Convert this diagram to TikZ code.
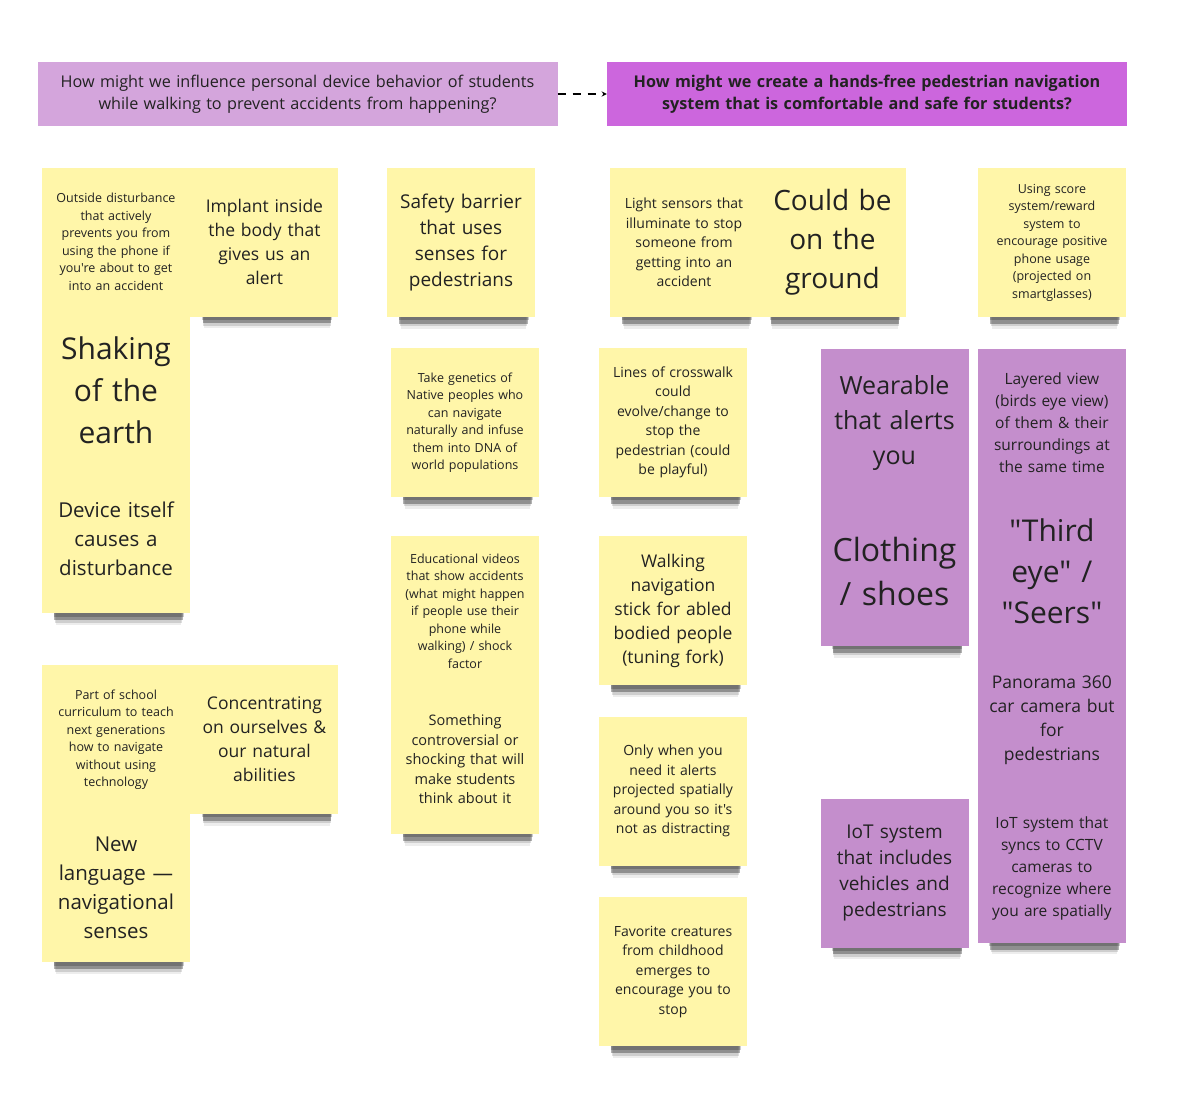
\documentclass[tikz,border=0pt]{standalone}
\usepackage{fontspec}
\setmainfont{Open Sans}[Ligatures=TeXOff]
\usepackage{xcolor}
\usepackage{tikz}
\usetikzlibrary{shapes,arrows,positioning,shadows}
\definecolor{noteyellow}{HTML}{FFF6A9}
\definecolor{notepurple}{HTML}{C48ECC}
\definecolor{hmwlight}{HTML}{D4A5DC}
\definecolor{hmwbright}{HTML}{CC66DD}
\definecolor{inkgray}{HTML}{222222}
\tikzstyle{hmw} = [rectangle, minimum width=520pt, minimum height=64pt, text width=510pt, align=center, inner sep=0pt, text=inkgray, font=\fontsize{16.2}{22}\selectfont]
\tikzstyle{note} = [rectangle, minimum width=148pt, minimum height=149pt, text width=146pt, align=center, inner sep=0pt, text=inkgray,
  drop shadow={shadow xshift=3pt, shadow yshift=-27pt, shadow scale=0.85, opacity=0.07, fill=black, rounded corners=8pt},
  drop shadow={shadow xshift=3pt, shadow yshift=-23pt, shadow scale=0.86, opacity=0.13, fill=black, rounded corners=6pt},
  drop shadow={shadow xshift=3pt, shadow yshift=-19pt, shadow scale=0.87, opacity=0.3, fill=black, rounded corners=4pt},
  drop shadow={shadow xshift=3pt, shadow yshift=-14pt, shadow scale=0.88, opacity=0.2, fill=black, rounded corners=3pt}]
\tikzstyle{yellownote} = [note, fill=noteyellow]
\tikzstyle{purplenote} = [note, fill=notepurple]
\tikzstyle{tinytxt} = [font=\fontsize{12.5}{17.5}\selectfont]
\tikzstyle{smalltxt} = [font=\fontsize{14}{19.5}\selectfont]
\tikzstyle{medtxt} = [font=\fontsize{15.5}{22}\selectfont]
\tikzstyle{largetxt} = [font=\fontsize{17.5}{24}\selectfont]
\tikzstyle{bigtxt} = [font=\fontsize{19}{26}\selectfont]
\tikzstyle{hugetxt} = [font=\fontsize{20.5}{29}\selectfont]
\tikzstyle{arrow} = [line width=1.3pt,->,>=stealth,dash pattern=on 8pt off 7pt]

\begin{document}
\begin{tikzpicture}[x=1pt,y=-1pt,node distance=-1pt]
\fill[white] (0,0) rectangle (1196,1106);
\useasboundingbox (0,0) rectangle (1196,1106);

% the two questions
\node (hmwone) [hmw, fill=hmwlight] at (297.5,94) {How might we influence personal device behavior of students\\while walking to prevent accidents from happening?};
\node (hmwtwo) [hmw, fill=hmwbright, font=\fontsize{16.2}{22}\selectfont\bfseries] at (867,94) {How might we create a hands-free pedestrian navigation\\system that is comfortable and safe for students?};
\draw [arrow] (hmwone) -- (hmwtwo);

% first column
\node (outside) [yellownote, tinytxt] at (116,242) {Outside disturbance\\that actively\\prevents you from\\using the phone if\\you're about to get\\into an accident};
\node (implant) [yellownote, largetxt, right = 0pt of outside] {Implant inside\\the body that\\gives us an\\alert};
\node (shaking) [yellownote, font=\fontsize{30}{42}\selectfont, below = of outside] {Shaking\\of the\\earth};
\node (device) [yellownote, hugetxt, below = of shaking] {Device itself\\causes a\\disturbance};
\node (school) [yellownote, tinytxt] at (116,739.5) {Part of school\\curriculum to teach\\next generations\\how to navigate\\without using\\technology};
\node (concentrating) [yellownote, largetxt, right = 0pt of school] {Concentrating\\on ourselves \&\\our natural\\abilities};
\node (newlang) [yellownote, hugetxt, below = of school] {New\\language —\\navigational\\senses};

% second column
\node (safety) [yellownote, bigtxt] at (461,242.5) {Safety barrier\\that uses\\senses for\\pedestrians};
\node (genetics) [yellownote, tinytxt] at (465,422.5) {Take genetics of\\Native peoples who\\can navigate\\naturally and infuse\\them into DNA of\\world populations};
\node (videos) [yellownote, tinytxt, below = 39pt of genetics] {Educational videos\\that show accidents\\(what might happen\\if people use their\\phone while\\walking) / shock\\factor};
\node (shocking) [yellownote, font=\fontsize{14.5}{19.5}\selectfont, below = of videos] {Something\\controversial or\\shocking that will\\make students\\think about it};

% third column
\node (lightsensor) [yellownote, smalltxt] at (684,242.5) {Light sensors that\\illuminate to stop\\someone from\\getting into an\\accident};
\node (ground) [yellownote, font=\fontsize{28}{39}\selectfont, right = 0pt of lightsensor] {Could be\\on the\\ground};
\node (crosswalk) [yellownote, smalltxt] at (673,422.5) {Lines of crosswalk\\could\\evolve/change to\\stop the\\pedestrian (could\\be playful)};
\node (stick) [yellownote, largetxt, below = 39pt of crosswalk] {Walking\\navigation\\stick for abled\\bodied people\\(tuning fork)};
\node (onlywhen) [yellownote, smalltxt, below = 31pt of stick] {Only when you\\need it alerts\\projected spatially\\around you so it's\\not as distracting};
\node (creatures) [yellownote, smalltxt, below = 31pt of onlywhen] {Favorite creatures\\from childhood\\emerges to\\encourage you to\\stop};

% fourth column
\node (score) [yellownote, tinytxt] at (1052,242.5) {Using score\\system/reward\\system to\\encourage positive\\phone usage\\(projected on\\smartglasses)};
\node (wearable) [purplenote, font=\fontsize{25}{35}\selectfont] at (894.5,423) {Wearable\\that alerts\\you};
\node (clothing) [purplenote, font=\fontsize{32}{44}\selectfont, below = of wearable] {Clothing\\/ shoes};
\node (layered) [purplenote, medtxt, right = 9pt of wearable] {Layered view\\(birds eye view)\\of them \& their\\surroundings at\\the same time};
\node (thirdeye) [purplenote, font=\fontsize{30}{41}\selectfont, below = of layered] {"Third\\eye" /\\"Seers"};
\node (panorama) [purplenote, largetxt, below = of thirdeye] {Panorama 360\\car camera but\\for\\pedestrians};
\node (iotcars) [purplenote, bigtxt] at (894.5,873) {IoT system\\that includes\\vehicles and\\pedestrians};
\node (cctv) [purplenote, medtxt, below = of panorama] {IoT system that\\syncs to CCTV\\cameras to\\recognize where\\you are spatially};
\end{tikzpicture}
\end{document}
